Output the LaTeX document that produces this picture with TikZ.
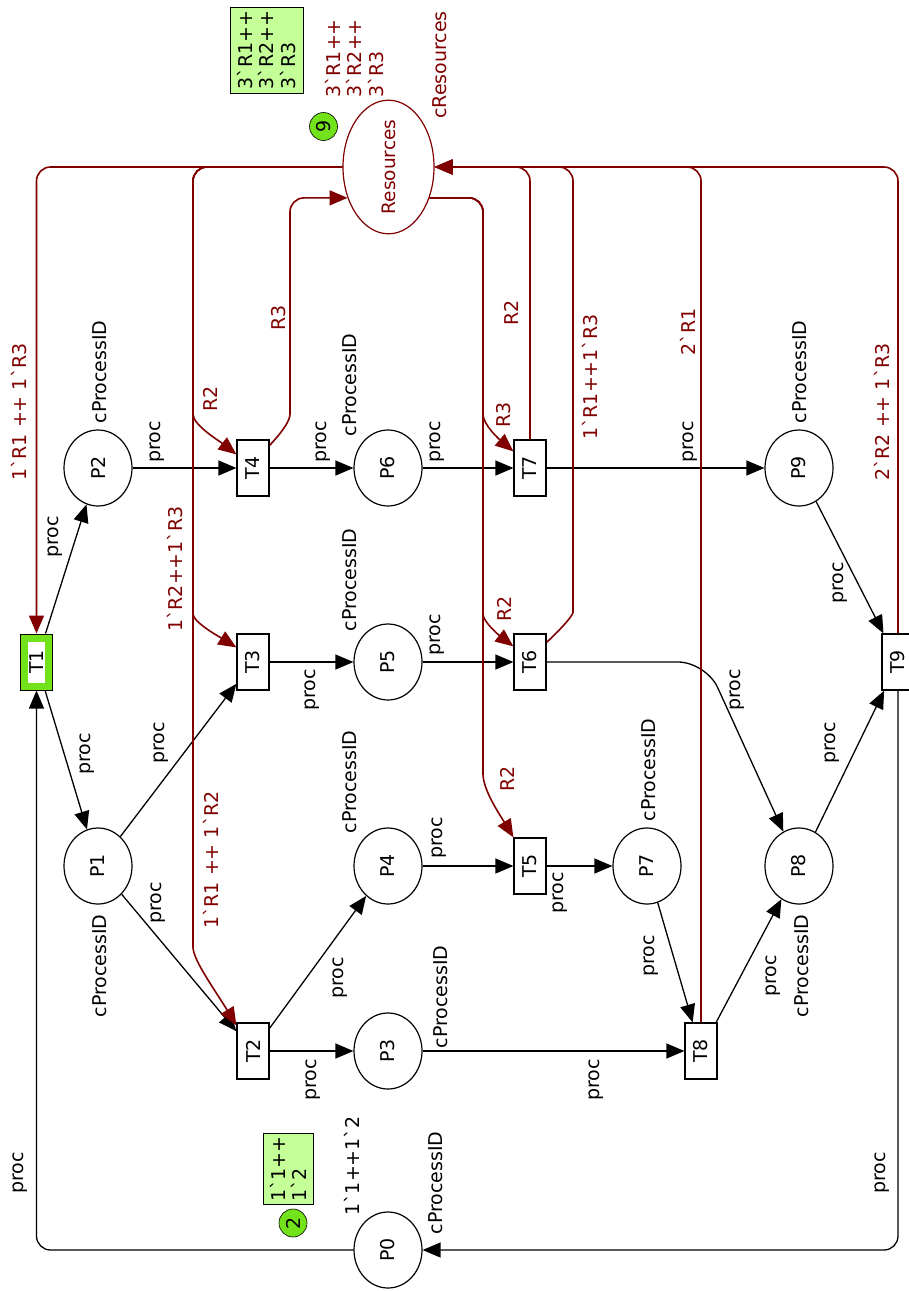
\documentclass[tikz,border=0pt]{standalone}
\usepackage{fontspec}
\setmainfont{DejaVu Sans}
\usetikzlibrary{arrows.meta,shapes.geometric}
\definecolor{dred}{RGB}{128,0,0}
\definecolor{tgreen}{RGB}{114,226,26}
\definecolor{mgreen}{RGB}{196,255,152}
\newcommand{\bqt}{\textasciigrave}
\begin{document}
\begin{tikzpicture}[x=1pt,y=-1pt,
  font=\fontsize{19}{21.5}\selectfont,
  place/.style={ellipse,draw,line width=1.2pt,minimum width=68pt,minimum height=76pt,inner sep=0pt},
  trans/.style={rectangle,draw,line width=1.2pt,minimum width=32pt,minimum height=56pt,inner sep=0pt,fill=white},
  arc/.style={line width=1.3pt,-{Triangle[length=18pt,width=15pt]}},
  rarc/.style={line width=1.6pt,draw=dred,rounded corners=14pt,-{Triangle[length=18pt,width=15pt]}},
  lab/.style={rotate=90,inner sep=0pt},
  rlab/.style={rotate=90,inner sep=0pt,text=dred},
  token/.style={circle,draw,fill=tgreen,minimum size=28pt,inner sep=0pt,line width=0.6pt},
  mbox/.style={rotate=90,draw,fill=mgreen,align=left,inner sep=3pt,line width=1pt}
]
\useasboundingbox (0,0) rectangle (909,1291);

% places
\node[place] (P0) at (388,1250) {\rotatebox{90}{P0}};
\node[place] (P1) at (98,866) {\rotatebox{90}{P1}};
\node[place] (P2) at (98,468) {\rotatebox{90}{P2}};
\node[place] (P3) at (388,1051) {\rotatebox{90}{P3}};
\node[place] (P4) at (388,866) {\rotatebox{90}{P4}};
\node[place] (P5) at (388,662) {\rotatebox{90}{P5}};
\node[place] (P6) at (388,468) {\rotatebox{90}{P6}};
\node[place] (P7) at (647,866) {\rotatebox{90}{P7}};
\node[place] (P8) at (799,866) {\rotatebox{90}{P8}};
\node[place] (P9) at (799,468) {\rotatebox{90}{P9}};
\node[ellipse,draw=dred,line width=1.2pt,minimum width=91pt,minimum height=124pt,inner sep=0pt,text=dred] (Res) at (388.5,167) {\rotatebox{90}{\fontsize{18.5}{21}\selectfont Resources}};

% transitions
\node[trans,fill=tgreen,line width=1pt,
  path picture={\fill[white] ([shift={(7.5pt,7.5pt)}]path picture bounding box.south west) rectangle ([shift={(-7.5pt,-7.5pt)}]path picture bounding box.north east);}] (T1) at (36.5,662) {\rotatebox{90}{T1}};
\node[trans] (T2) at (253,1051) {\rotatebox{90}{T2}};
\node[trans] (T3) at (253,662) {\rotatebox{90}{T3}};
\node[trans] (T4) at (253,468) {\rotatebox{90}{T4}};
\node[trans] (T5) at (530,866) {\rotatebox{90}{T5}};
\node[trans] (T6) at (530,662) {\rotatebox{90}{T6}};
\node[trans] (T7) at (530,468) {\rotatebox{90}{T7}};
\node[trans] (T8) at (701,1051) {\rotatebox{90}{T8}};
\node[trans] (T9) at (898,662) {\rotatebox{90}{T9}};

% black arcs
\draw[arc,rounded corners=14pt] (P0.west) -| (T1.south);
\draw[arc,rounded corners=14pt] (T9.south) |- (P0.east);
\draw[arc] (T1) -- (P2);
\draw[arc] (T1) -- (P1);
\draw[arc] (P2) -- (T4);
\draw[arc] (T4) -- (P6);
\draw[arc] (P6) -- (T7);
\draw[arc] (T7) -- (P9);
\draw[arc] (P9) -- (T9);
\draw[arc] (P1) -- (T3);
\draw[arc] (T3) -- (P5);
\draw[arc] (P5) -- (T6);
\draw[arc,rounded corners=28pt] (T6.east) -- (706,662) -- (P8);
\draw[arc] (P8) -- (T9);
\draw[arc] (P1) -- (T2);
\draw[arc] (T2) -- (P4);
\draw[arc] (T2) -- (P3);
\draw[arc] (P3) -- (T8);
\draw[arc] (P4) -- (T5);
\draw[arc] (T5) -- (P7);
\draw[arc] (P7) -- (T8);
\draw[arc] (T8) -- (P8);

% red arcs
\draw[rarc] (Res.west) -| (T1.north);
\draw[rarc] (Res.west) -| (193,400) .. controls (193,425) and (218,440) .. ([yshift=-15pt]T4.north west);
\draw[rarc] (Res.west) -| (193,600) .. controls (193,622) and (218,636) .. ([yshift=-14pt]T3.north west);
\draw[rarc] (Res.west) -| (193,933) .. controls (193,960) and (215,990) .. ([yshift=-3pt]T2.north west);
\draw[rarc] ([yshift=-6pt]T4.north east) .. controls (284,430) and (290,420) .. (290,400) |- (Res.217);
\draw[rarc] (Res.323) -| (483,400) .. controls (483,425) and (500,440) .. ([yshift=-12pt]T7.north west);
\draw[rarc] (Res.323) -| (483,600) .. controls (483,622) and (500,636) .. ([yshift=-13pt]T6.north west);
\draw[rarc] (Res.323) -| (483,760) .. controls (483,790) and (500,815) .. (T5.north west);
\draw[rarc] (T7.north) |- (Res.east);
\draw[rarc] ([yshift=-9pt]T6.north east) .. controls (565,625) and (573,615) .. (573,598) |- (Res.east);
\draw[rarc] (T8.north) |- (Res.east);
\draw[rarc] (T9.north) |- (Res.east);

% arc labels (black)
\node[lab] at (20,1173) {proc};
\node[lab] at (882,1173) {proc};
\node[lab] at (55,537) {proc};
\node[lab] at (87,754) {proc};
\node[lab] at (157,442) {proc};
\node[lab] at (323,442) {proc};
\node[lab] at (437,442) {proc};
\node[lab] at (690,442) {proc};
\node[lab] at (840,583) {proc};
\node[lab] at (161,743) {proc};
\node[lab] at (312,690) {proc};
\node[lab] at (437,635) {proc};
\node[lab] at (737,690) {proc};
\node[lab] at (832,743) {proc};
\node[lab] at (158,903) {proc};
\node[lab] at (340,978) {proc};
\node[lab] at (313,1080) {proc};
\node[lab] at (596,1080) {proc};
\node[lab] at (439,838) {proc};
\node[lab] at (560,893) {proc};
\node[lab] at (651,956) {proc};
\node[lab] at (773,976) {proc};

% colour set labels
\node[lab] at (100,372) {cProcessID};
\node[lab] at (350,385) {cProcessID};
\node[lab] at (350,580) {cProcessID};
\node[lab] at (100,966) {cProcessID};
\node[lab] at (350,782) {cProcessID};
\node[lab] at (441,997) {cProcessID};
\node[lab] at (436,1183) {cProcessID};
\node[lab] at (649,770) {cProcessID};
\node[lab] at (802,966) {cProcessID};
\node[lab] at (800,372) {cProcessID};
\node[rlab] at (440,65) {cResources};

% red arc labels
\node[rlab] at (19,412) {1\bqt R1 ++ 1\bqt R3};
\node[rlab] at (210,399) {R2};
\node[rlab] at (279,318) {R3};
\node[rlab] at (175,569) {1\bqt R2++1\bqt R3};
\node[rlab] at (211,860) {1\bqt R1 ++ 1\bqt R2};
\node[rlab] at (504,415) {R3};
\node[rlab] at (511,313) {R2};
\node[rlab] at (590,377) {1\bqt R1++1\bqt R3};
\node[rlab] at (688,332) {2\bqt R1};
\node[rlab] at (882,412) {2\bqt R2 ++ 1\bqt R3};
\node[rlab] at (504,609) {R2};
\node[rlab] at (507,779) {R2};

% markings
\node[rlab,anchor=north west,align=left] (i9) at (325,98) {3\bqt R1++\\3\bqt R2++\\3\bqt R3};
\node[token] (k9) at (323.5,126.5) {\rotatebox{90}{9}};
\node[mbox,minimum width=86pt,minimum height=73pt] (m9) at (266.5,50) {3\bqt R1++\\3\bqt R2++\\3\bqt R3};

\node[lab] (i2) at (352,1166) {1\bqt 1++1\bqt 2};
\node[token] (k2) at (293,1223) {\rotatebox{90}{2}};
\node[mbox,minimum width=71pt,minimum height=50pt] (m2) at (288.5,1169) {1\bqt 1++\\1\bqt 2};
\end{tikzpicture}
\end{document}
